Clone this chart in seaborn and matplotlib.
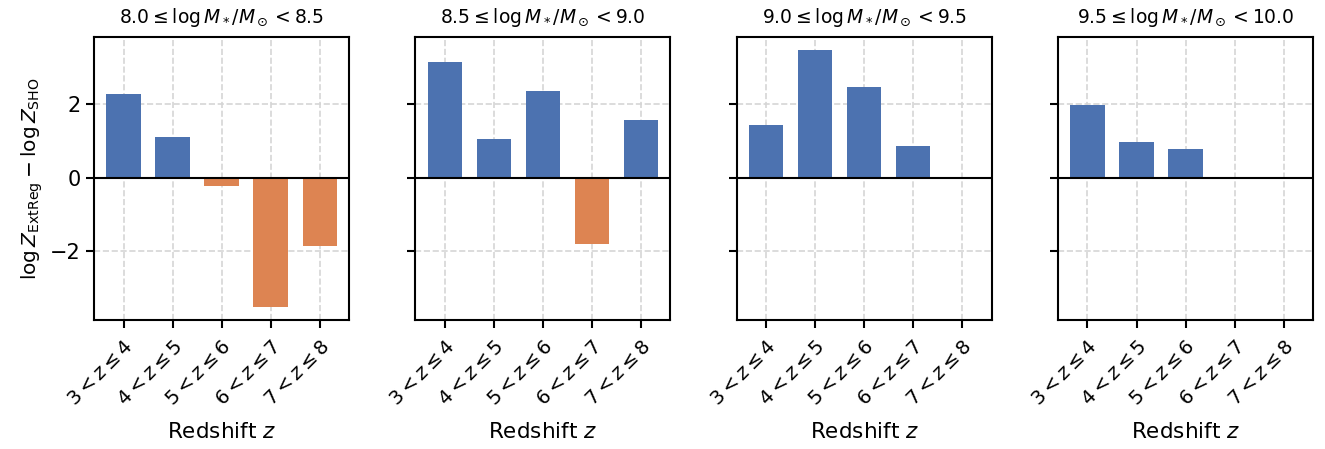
import numpy as np
import pandas as pd
import matplotlib
matplotlib.use("Agg")
import matplotlib.pyplot as plt
import seaborn as sns

# Redshift bins and stellar-mass bins
z_bins = [r"$3<z\leq4$", r"$4<z\leq5$", r"$5<z\leq6$", r"$6<z\leq7$", r"$7<z\leq8$"]
mass_titles = [
    r"$8.0 \leq \log M_*/M_\odot < 8.5$",
    r"$8.5 \leq \log M_*/M_\odot < 9.0$",
    r"$9.0 \leq \log M_*/M_\odot < 9.5$",
    r"$9.5 \leq \log M_*/M_\odot < 10.0$",
]

# Metallicity offset log Z_ExtReg - log Z_SHO per redshift bin
diff_m80 = [2.27, 1.11, -0.22, -3.51, -1.86]
diff_m85 = [3.14, 1.05, 2.35, -1.81, 1.57]
diff_m90 = [1.43, 3.46, 2.46, 0.86, np.nan]
diff_m95 = [1.95, 0.95, 0.78, np.nan, np.nan]
panels = [diff_m80, diff_m85, diff_m90, diff_m95]

pos_color = "#4C72B0"
neg_color = "#DD8452"

sns.set_style("ticks")
plt.rcParams["font.family"] = ["DejaVu Sans"]
plt.rcParams["text.color"] = "black"
plt.rcParams["axes.labelcolor"] = "black"
plt.rcParams["xtick.color"] = "black"
plt.rcParams["ytick.color"] = "black"
plt.rcParams["axes.linewidth"] = 1.5
plt.rcParams["xtick.major.width"] = 1.5
plt.rcParams["ytick.major.width"] = 1.5
plt.rcParams["xtick.major.size"] = 6
plt.rcParams["ytick.major.size"] = 6

fig, axes = plt.subplots(1, 4, figsize=(13.25, 4.49), dpi=100, sharey=True)
fig.subplots_adjust(left=0.071, right=0.991, top=0.918, bottom=0.287, wspace=0.26)

for ax, vals, title in zip(axes, panels, mass_titles):
    df = pd.DataFrame({"zbin": z_bins, "diff": vals})
    df["sign"] = np.where(df["diff"] < 0, "neg", "pos")
    sns.barplot(data=df, x="zbin", y="diff", hue="sign",
                palette={"pos": pos_color, "neg": neg_color},
                hue_order=["pos", "neg"], dodge=False, width=0.7,
                saturation=1, legend=False, ax=ax, zorder=3, linewidth=0)
    ax.axhline(0, color="black", lw=1.5, zorder=4)
    ax.grid(True, ls="--", color="#d5d5d5", lw=1.2, zorder=0)
    ax.set_axisbelow(True)
    ax.set_title(title, fontsize=13.5, pad=10)
    ax.set_xlabel(r"Redshift $z$", fontsize=15.5, labelpad=9)
    ax.set_ylabel("")
    ax.set_xlim(-0.6, 4.6)
    ax.set_xticks(range(len(z_bins)))
    ax.set_xticklabels(z_bins, rotation=45, ha="right", rotation_mode="anchor",
                       fontsize=14)
    ax.tick_params(axis="x", pad=6)
    ax.tick_params(axis="y", labelsize=15)
    for sp in ax.spines.values():
        sp.set_visible(True)
        sp.set_color("black")

axes[0].set_yticks([-2, 0, 2])
axes[0].set_ylabel(r"$\log Z_{\rm ExtReg} - \log Z_{\rm SHO}$", fontsize=14.5)

fig.savefig("out.png", dpi=100)
